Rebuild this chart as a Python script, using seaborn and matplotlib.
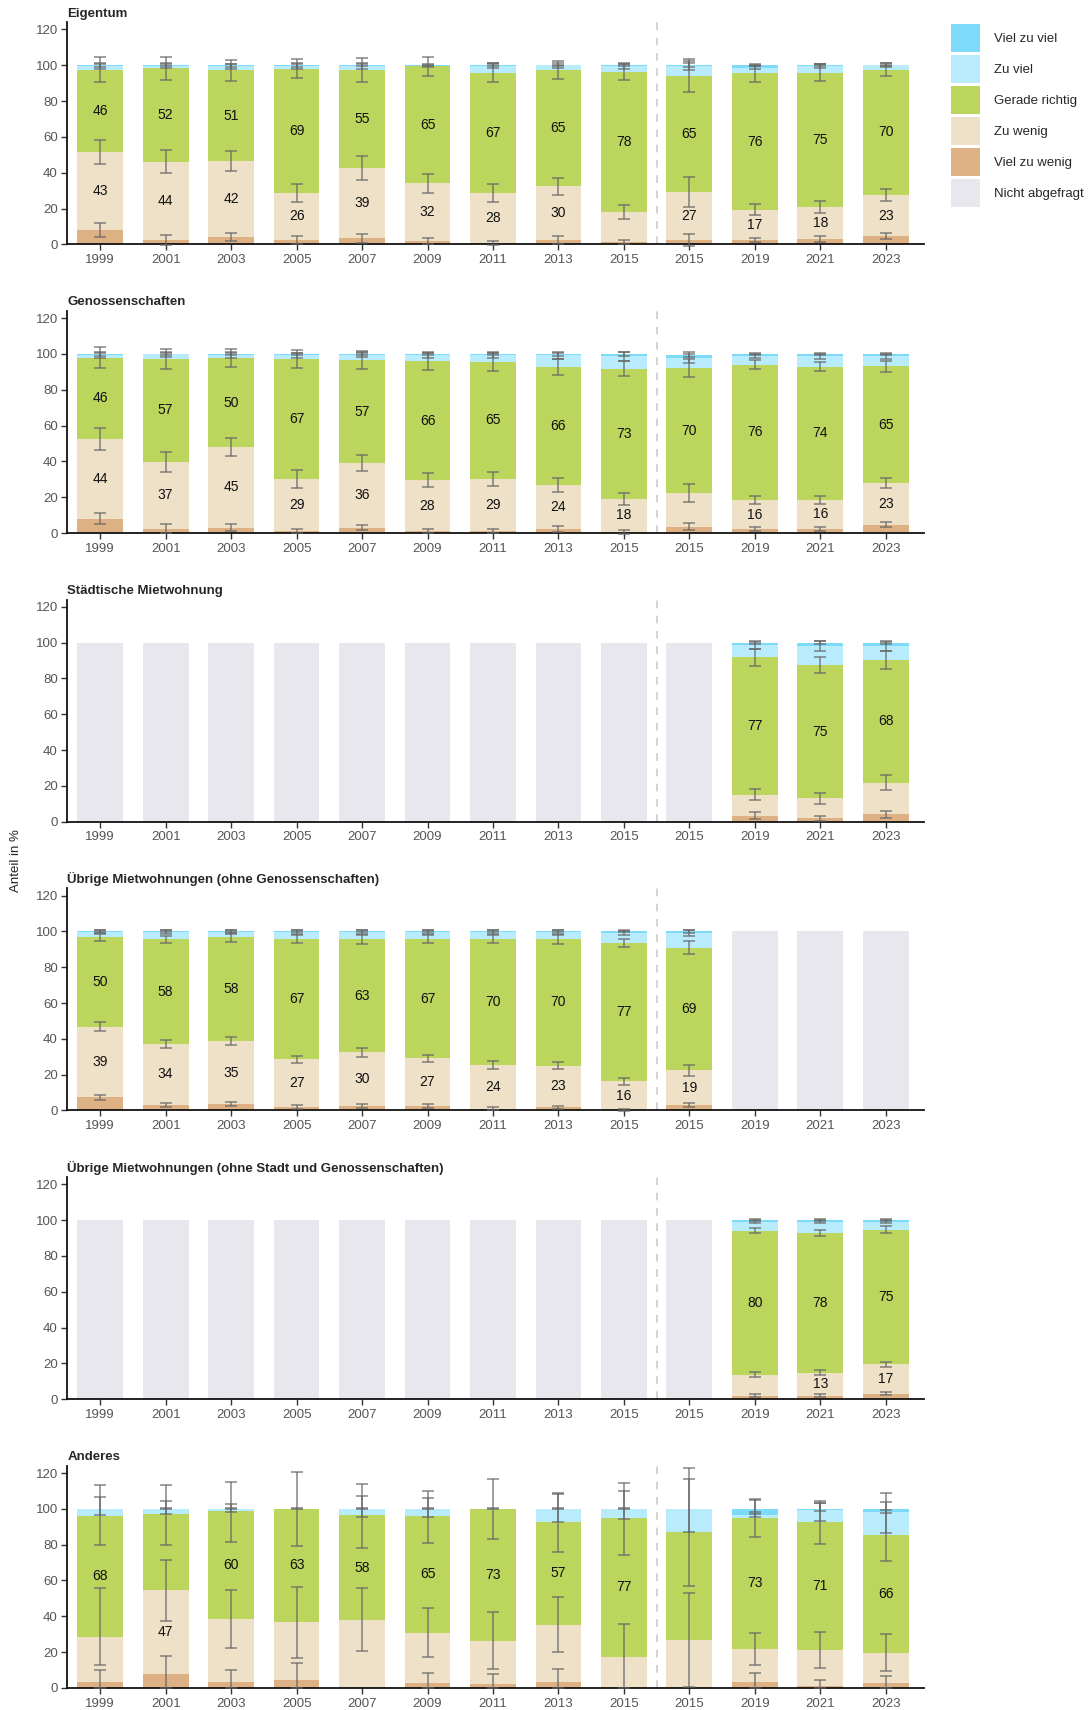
import numpy as np
import matplotlib
matplotlib.use("Agg")
import matplotlib.pyplot as plt
from matplotlib.patches import Patch
import seaborn as sns

nan = np.nan

years = ["1999", "2001", "2003", "2005", "2007", "2009", "2011", "2013", "2015",
         "2015", "2019", "2021", "2023"]
categories = ["Viel zu wenig", "Zu wenig", "Gerade richtig", "Zu viel", "Viel zu viel"]
colors = ["#ddb183", "#efe1c8", "#bbd55d", "#b8ecfc", "#7ddaf8"]
col_na = "#e8e7ee"

# rows: Viel zu wenig, Zu wenig, Gerade richtig, Zu viel, Viel zu viel (in %)
eigentum = [
    [8.0, 2.4, 4.1, 2.4, 3.5, 1.9, 0.7, 2.4, 1.3, 2.4, 2.4, 3.0, 4.6],
    [43.4, 43.6, 42.4, 26.3, 39.0, 32.2, 27.9, 30.1, 16.7, 26.7, 16.9, 17.8, 22.9],
    [46.2, 52.3, 50.6, 69.2, 55.1, 65.2, 67.3, 64.6, 78.4, 65.1, 76.1, 75.1, 70.1],
    [1.9, 1.5, 2.3, 1.6, 2.0, 0.4, 3.9, 2.9, 3.0, 5.5, 3.3, 3.7, 2.4],
    [0.5, 0.2, 0.6, 0.5, 0.4, 0.3, 0.2, 0.0, 0.6, 0.3, 1.3, 0.4, 0.0],
]
eigentum_err = [
    [4.0, 2.6, 2.5, 2.4, 2.5, 1.6, 1.0, 2.0, 1.2, 3.4, 1.2, 1.5, 1.7],
    [6.8, 6.4, 5.8, 5.2, 6.7, 5.2, 4.9, 4.8, 4.1, 8.3, 3.1, 3.2, 3.3],
    [7.0, 6.5, 5.8, 5.3, 6.7, 5.2, 5.3, 5.0, 4.8, 9.0, 4.5, 4.6, 3.6],
    [1.5, 1.5, 1.5, 1.5, 1.6, 0.6, 1.5, 1.5, 1.5, 2.5, 1.0, 1.0, 1.0],
    [0.8, 0.6, 0.8, 0.8, 0.7, 0.5, 0.5, 0.3, 0.7, 1.0, 0.6, 0.5, 0.3],
]
eigentum_show = [
    [1, 1, 1, 1, 1, 1, 1, 1, 0, 1, 1, 1, 1],
    [1, 1, 1, 1, 1, 1, 1, 1, 1, 1, 1, 1, 1],
]

genossen = [
    [8.0, 2.4, 3.0, 1.1, 3.0, 1.1, 1.1, 2.4, 0.6, 3.5, 2.2, 2.2, 4.6],
    [44.4, 37.4, 45.0, 29.1, 36.1, 28.5, 29.1, 24.4, 18.4, 18.9, 16.3, 16.4, 23.4],
    [45.6, 57.4, 49.6, 67.2, 57.4, 66.3, 65.4, 66.1, 72.8, 69.6, 75.6, 74.2, 65.0],
    [1.3, 2.6, 1.8, 1.9, 3.1, 3.6, 3.8, 6.4, 6.9, 5.6, 4.6, 5.9, 5.7],
    [0.7, 0.2, 0.6, 0.7, 0.4, 0.5, 0.6, 0.5, 1.3, 2.0, 1.3, 1.3, 1.3],
]
genossen_err = [
    [3.2, 2.4, 1.8, 1.2, 1.5, 1.3, 1.3, 1.8, 1.0, 2.0, 1.0, 1.0, 1.4],
    [6.0, 5.5, 4.9, 4.8, 4.4, 4.0, 4.0, 4.0, 3.3, 4.9, 2.2, 2.2, 2.7],
    [6.1, 5.5, 4.9, 5.0, 5.0, 4.7, 4.9, 4.5, 4.0, 5.0, 2.7, 2.6, 3.0],
    [1.5, 1.5, 1.5, 1.5, 1.5, 1.5, 1.5, 2.0, 2.5, 2.5, 1.0, 1.5, 1.5],
    [1.0, 0.8, 0.8, 0.8, 0.6, 0.6, 0.8, 1.0, 1.0, 1.5, 0.5, 0.6, 0.6],
]
genossen_show = [
    [1, 1, 1, 1, 1, 1, 1, 1, 1, 0, 1, 1, 1],
    [1, 1, 1, 1, 1, 1, 1, 1, 1, 1, 1, 1, 1],
]

stadt = [
    [nan] * 10 + [3.5, 1.9, 4.1],
    [nan] * 10 + [11.7, 11.1, 17.8],
    [nan] * 10 + [76.7, 74.6, 68.3],
    [nan] * 10 + [6.6, 10.4, 7.8],
    [nan] * 10 + [1.5, 2.0, 2.0],
]
stadt_err = [
    [0] * 10 + [1.9, 1.5, 2.0],
    [0] * 10 + [3.3, 3.3, 4.2],
    [0] * 10 + [4.8, 4.6, 5.1],
    [0] * 10 + [2.0, 2.7, 2.5],
    [0] * 10 + [1.0, 1.0, 1.0],
]
stadt_show = [
    [0] * 13,
    [0] * 10 + [1, 1, 1],
]

uebrige = [
    [7.4, 3.0, 3.5, 1.9, 2.4, 2.4, 1.1, 1.7, 0.4, 3.0, nan, nan, nan],
    [39.3, 34.2, 35.4, 26.6, 30.0, 26.7, 24.4, 23.4, 15.9, 19.4, nan, nan, nan],
    [50.2, 58.3, 57.8, 67.2, 63.3, 66.6, 70.2, 70.4, 77.2, 68.6, nan, nan, nan],
    [2.7, 4.1, 2.9, 3.9, 3.9, 3.9, 3.9, 4.1, 5.6, 8.1, nan, nan, nan],
    [0.4, 0.4, 0.4, 0.4, 0.4, 0.4, 0.4, 0.4, 0.9, 0.9, nan, nan, nan],
]
uebrige_err = [
    [1.4, 1.0, 1.0, 1.0, 1.0, 1.0, 1.0, 1.0, 0.6, 1.2, 0, 0, 0],
    [2.5, 2.4, 2.4, 2.1, 2.4, 2.1, 2.2, 2.2, 1.9, 3.1, 0, 0, 0],
    [2.2, 2.2, 2.5, 2.3, 2.5, 2.2, 2.4, 2.5, 2.1, 3.6, 0, 0, 0],
    [1.0, 1.0, 1.0, 1.0, 1.0, 1.0, 1.0, 1.0, 1.0, 1.5, 0, 0, 0],
    [0.5, 0.5, 0.5, 0.5, 0.5, 0.5, 0.5, 0.5, 0.6, 0.8, 0, 0, 0],
]
uebrige_show = [
    [1] * 10 + [0, 0, 0],
    [1] * 10 + [0, 0, 0],
]

uebrige2 = [
    [nan] * 10 + [2.0, 2.0, 3.0],
    [nan] * 10 + [11.8, 12.9, 16.6],
    [nan] * 10 + [80.3, 78.0, 75.1],
    [nan] * 10 + [5.0, 6.2, 4.4],
    [nan] * 10 + [0.9, 0.9, 0.9],
]
uebrige2_err = [
    [0] * 10 + [0.8, 0.8, 0.9],
    [0] * 10 + [1.3, 1.3, 1.4],
    [0] * 10 + [1.4, 1.6, 1.8],
    [0] * 10 + [0.8, 0.9, 0.8],
    [0] * 10 + [0.5, 0.5, 0.5],
]
uebrige2_show = [
    [0] * 10 + [0, 1, 1],
    [0] * 10 + [1, 1, 1],
]

anderes = [
    [3.5, 8.0, 3.5, 4.6, 0.0, 3.0, 2.4, 3.5, 0.0, 0.0, 3.5, 1.1, 2.8],
    [25.0, 46.6, 35.2, 32.4, 38.0, 27.7, 24.0, 31.9, 17.4, 26.9, 18.2, 20.2, 16.8],
    [67.6, 42.3, 60.0, 62.8, 58.4, 65.4, 73.4, 57.2, 77.4, 60.0, 73.4, 71.3, 65.6],
    [3.9, 2.8, 1.0, 0.2, 3.3, 3.6, 0.2, 7.2, 4.9, 13.1, 1.4, 6.5, 13.3],
    [0.0, 0.3, 0.3, 0.0, 0.3, 0.3, 0.0, 0.2, 0.3, 0.0, 3.5, 0.9, 1.5],
]
# small samples: asymmetric intervals (lower / upper)
anderes_err_lo = [
    [3.5, 8.0, 3.5, 4.6, 0, 3.0, 2.4, 3.5, 0, 0, 3.5, 1.1, 2.8],
    [15.5, 17.4, 16.5, 20.3, 17.6, 13.5, 15.8, 15.4, 17.4, 26.5, 8.9, 10.4, 10.3],
    [16.5, 16.9, 17.0, 20.3, 18.4, 15.2, 16.5, 16.9, 20.5, 29.9, 11.0, 12.0, 14.5],
    [3.7, 2.8, 1.2, 0.2, 4.1, 4.4, 0.2, 7.4, 5.4, 13.0, 1.0, 6.0, 12.0],
    [0, 0.3, 0.3, 0, 0.3, 0.3, 0, 0.2, 0.3, 0, 3.0, 1.0, 2.2],
]
anderes_err_hi = [
    [6.7, 10.1, 6.7, 9.3, 0, 5.3, 5.4, 7.1, 0, 0, 4.6, 3.2, 3.7],
    [27.1, 17.1, 16.1, 19.5, 17.8, 13.7, 16.0, 15.5, 18.2, 26.2, 9.2, 10.0, 10.4],
    [17.0, 16.4, 16.5, 20.8, 17.7, 13.9, 16.7, 16.1, 19.5, 29.8, 10.1, 11.5, 14.0],
    [6.5, 4.4, 3.1, 0.5, 7.4, 6.1, 0.5, 8.7, 10.5, 22.6, 2.0, 4.0, 10.4],
    [0, 0.5, 0.5, 0, 0.5, 0.5, 0, 0.5, 0.5, 0, 5.5, 3.0, 3.7],
]
anderes_show = [
    [0, 1, 0, 0, 0, 0, 0, 0, 0, 0, 0, 0, 0],
    [1, 0, 1, 1, 1, 1, 1, 1, 1, 0, 1, 1, 1],
]

panels = [
    ("Eigentum", eigentum, eigentum_err, eigentum_err, eigentum_show),
    ("Genossenschaften", genossen, genossen_err, genossen_err, genossen_show),
    ("Städtische Mietwohnung", stadt, stadt_err, stadt_err, stadt_show),
    ("Übrige Mietwohnungen (ohne Genossenschaften)", uebrige, uebrige_err, uebrige_err, uebrige_show),
    ("Übrige Mietwohnungen (ohne Stadt und Genossenschaften)", uebrige2, uebrige2_err, uebrige2_err, uebrige2_show),
    ("Anderes", anderes, anderes_err_lo, anderes_err_hi, anderes_show),
]

sns.set_theme(style="ticks")
plt.rcParams['font.family'] = ['Liberation Sans', 'DejaVu Sans']

fig, axes = plt.subplots(6, 1, figsize=(10.88, 17.10), dpi=100)
fig.subplots_adjust(left=0.062, right=0.849, top=0.987, bottom=0.0129, hspace=0.30)

x = np.arange(len(years))
w = 0.7
for ax, (title, vals, elo, ehi, show) in zip(axes, panels):
    vals = np.array(vals, dtype=float)
    elo = np.array(elo, dtype=float)
    ehi = np.array(ehi, dtype=float)
    asked = ~np.isnan(vals[0])

    # not asked -> grey full bar
    ax.bar(x[~asked], 100, width=w, color=col_na, linewidth=0, zorder=1)

    bottom = np.zeros(len(x))
    tops = []
    for i, c in enumerate(colors):
        v = np.nan_to_num(vals[i])
        ax.bar(x[asked], v[asked], bottom=bottom[asked], width=w, color=c,
               linewidth=0, zorder=2)
        if i in (1, 2):
            for k in np.where(asked & (np.array(show[i - 1]) == 1))[0]:
                ax.text(x[k], bottom[k] + v[k] / 2, f"{int(round(v[k]))}",
                        ha='center', va='center', fontsize=10, color='#111111', zorder=6)
        bottom = bottom + v
        tops.append(bottom.copy())

    for i in range(5):
        m = asked & ((elo[i] + ehi[i]) > 0)
        ax.errorbar(x[m], tops[i][m], yerr=[elo[i][m], ehi[i][m]], fmt='none',
                    ecolor='#666666', elinewidth=1.1, capsize=4.5, capthick=1.1,
                    alpha=0.8, zorder=4, clip_on=False)

    ax.axvline(8.5, color='#c8c8c8', linestyle=(0, (5, 5)), linewidth=1.1, zorder=0)
    ax.set_xlim(-0.5, 12.58)
    ax.set_ylim(0, 124)
    ax.set_yticks(range(0, 121, 20))
    ax.set_xticks(x, years)
    ax.set_title(title, loc='left', fontsize=9.5, fontweight='bold', pad=4)
    sns.despine(ax=ax)
    for s in ('left', 'bottom'):
        ax.spines[s].set_color('#111111')
        ax.spines[s].set_linewidth(1.3)
    ax.tick_params(axis='both', labelsize=9.5, labelcolor='#555555', color='#333333',
                   length=4, width=1, pad=3)

fig.text(0.015, 0.497, "Anteil in %", rotation=90, ha='center', va='center',
         fontsize=9.5, color='#222222')

legend_labels = ["Viel zu viel", "Zu viel", "Gerade richtig", "Zu wenig",
                 "Viel zu wenig", "Nicht abgefragt"]
legend_colors = [colors[4], colors[3], colors[2], colors[1], colors[0], col_na]
handles = [Patch(facecolor=c, edgecolor='none') for c in legend_colors]
fig.legend(handles, legend_labels, loc='upper left',
           bbox_to_anchor=(951 / 1088, 1 - 24 / 1710), frameon=False,
           handlelength=2.2, handleheight=2.85, labelspacing=0.25, handletextpad=1.05,
           borderpad=0, borderaxespad=0, fontsize=9.5)

fig.savefig("out.png", dpi=100)
